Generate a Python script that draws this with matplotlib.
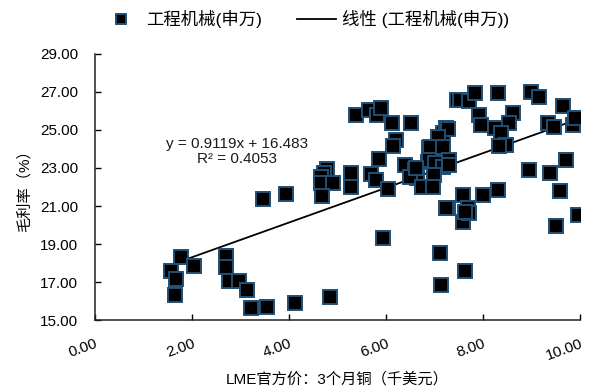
import matplotlib
matplotlib.use("Agg")
from matplotlib import pyplot as plt
import numpy as np

plt.rcParams['font.family'] = ['Liberation Sans', 'Noto Sans CJK SC']

# 铜价(千美元) 与 工程机械毛利率(%)
copper = [1.77, 1.56, 1.68, 1.65, 2.05, 2.70, 2.70, 2.76, 2.97, 3.13, 3.21, 3.54, 4.13, 4.85,
          3.47, 3.95, 4.79, 4.72, 4.67, 4.67, 4.91, 4.69,
          5.29, 5.27, 5.38, 5.66, 5.82, 5.90, 6.13, 6.51, 6.20, 6.15, 5.86, 5.70, 5.80, 6.04,
          5.95, 6.39, 6.59, 6.64, 6.76, 6.49,
          6.87, 7.00, 6.89, 7.17, 7.24, 7.28, 7.07, 6.90, 7.17, 6.89, 7.31, 7.02, 7.17, 6.62,
          7.00, 6.75, 6.97, 7.31, 7.28,
          7.47, 7.52, 7.72, 7.83, 8.31, 8.99, 9.15, 9.65, 7.92, 7.96, 8.62, 8.24, 8.53, 8.38,
          8.48, 8.34, 9.34, 9.47, 9.85, 9.89,
          9.72, 8.95, 9.39, 9.59, 9.95, 9.51, 7.59, 7.69, 8.00, 8.31, 7.24, 7.59, 7.72, 7.62,
          7.11, 7.62, 7.14]
margin = [18.30, 17.60, 17.14, 16.35, 17.84, 18.37, 17.77, 17.05, 17.05, 16.58, 15.65, 15.70, 15.88, 16.23,
          21.39, 21.65, 22.93, 22.75, 22.54, 22.19, 22.23, 21.54,
          22.72, 21.98, 25.77, 26.05, 25.79, 26.17, 25.38, 25.35, 24.45, 24.14, 23.47, 22.68, 22.37, 21.91,
          19.33, 23.16, 22.89, 22.46, 22.02, 22.54,
          23.33, 23.33, 24.04, 24.83, 25.09, 25.04, 24.65, 24.09, 24.12, 23.42, 23.42, 23.25, 23.07, 22.98,
          22.63, 22.02, 21.98, 23.16, 20.88,
          26.58, 26.58, 26.54, 26.93, 26.96, 26.98, 26.72, 26.26, 25.79, 25.26, 25.88, 25.09, 25.38, 24.83,
          24.21, 24.16, 25.35, 25.14, 25.26, 25.61,
          23.42, 22.89, 22.72, 21.79, 20.53, 19.95, 21.58, 20.88, 21.58, 21.84, 20.91, 20.17, 20.61, 20.70,
          18.51, 17.58, 16.84]

slope = 0.9119
intercept = 16.483
r2 = 0.4053

x_ticks = [0, 2, 4, 6, 8, 10]
y_ticks = [15, 17, 19, 21, 23, 25, 27, 29]

fig = plt.figure(figsize=(5.93, 3.90), dpi=100)
ax = fig.add_axes([0.160, 0.179, 0.818, 0.683])

ax.plot(copper, margin, 's', ms=9.5, mfc='black', mec='#1F5078', mew=1.4,
        label='工程机械(申万)', zorder=3)

# 线性趋势线
xs = np.array([min(copper), max(copper)])
ax.plot(xs, slope * xs + intercept, '-', color='black', lw=1.3,
        label='线性 (工程机械(申万))', zorder=2)

ax.text(2.93, 23.87, 'y = %.4fx + %.3f\nR² = %.4f' % (slope, intercept, r2),
        ha='center', va='center', fontsize=11, linespacing=1.05,
        multialignment='center', color='#1a1a1a')

ax.set_xlim(0, 10)
ax.set_ylim(15, 29)
ax.set_xticks(x_ticks)
ax.set_yticks(y_ticks)
ax.set_xticklabels(['%.2f' % v for v in x_ticks], rotation=20, ha='right',
                   va='top', rotation_mode='anchor')
ax.set_yticklabels(['%.2f' % v for v in y_ticks])
ax.tick_params(axis='both', direction='in', length=4, width=1, labelsize=11)
ax.tick_params(axis='y', pad=12)
ax.tick_params(axis='x', pad=12)

for s in ['top', 'right']:
    ax.spines[s].set_visible(False)
for s in ['left', 'bottom']:
    ax.spines[s].set_linewidth(1.1)
    ax.spines[s].set_color('#222222')

ax.set_xlabel('LME官方价：3个月铜（千美元）', fontsize=11, labelpad=6)
ax.set_ylabel('毛利率（%）', fontsize=11, labelpad=6)

fig.legend(loc='center', bbox_to_anchor=(0.514, 0.952), ncol=2, frameon=False,
           fontsize=12.5, handlelength=2.3, handletextpad=0.3, columnspacing=2.0,
           markerscale=0.75)

fig.savefig('out.png', dpi=100)
